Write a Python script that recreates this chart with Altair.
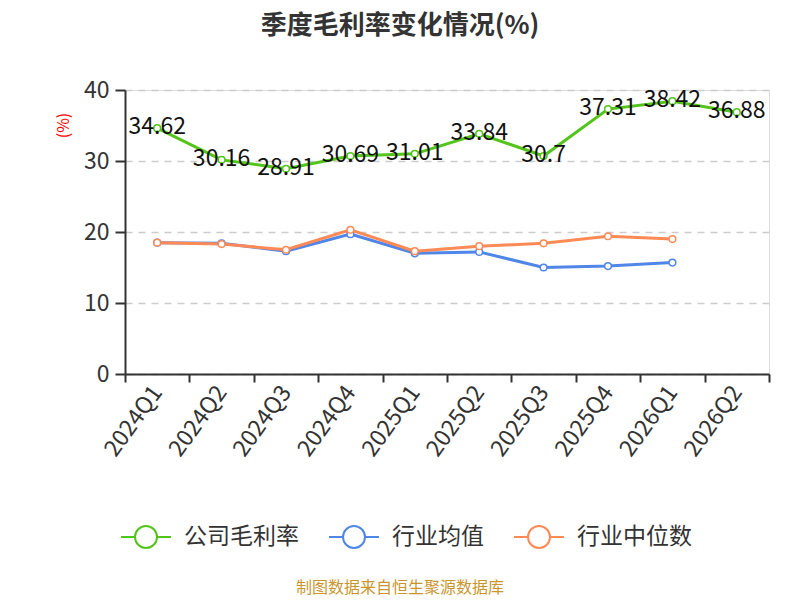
import altair as alt
import pandas as pd

quarters = ["2024Q1", "2024Q2", "2024Q3", "2024Q4", "2025Q1", "2025Q2", "2025Q3", "2025Q4", "2026Q1", "2026Q2"]
company = [34.62, 30.16, 28.91, 30.69, 31.01, 33.84, 30.7, 37.31, 38.42, 36.88]
industry_mean = [18.5, 18.4, 17.3, 19.7, 17.0, 17.2, 15.0, 15.2, 15.7, None]
industry_median = [18.5, 18.3, 17.5, 20.3, 17.3, 18.0, 18.4, 19.4, 19.0, None]

series_names = ["公司毛利率", "行业均值", "行业中位数"]
series_colors = ["#52C41A", "#4F86E8", "#FF8A56"]
title_text = "季度毛利率变化情况(%)"
source_text = "制图数据来自恒生聚源数据库"

rows = []
for name, vals in zip(series_names, [company, industry_mean, industry_median]):
    for i, (q, v) in enumerate(zip(quarters, vals)):
        if v is not None:
            rows.append({"quarter": q, "series": name, "value": v, "label": f"{v:g}"})
df = pd.DataFrame(rows)

FONT = "Noto Sans CJK SC"

x_enc = alt.X(
    "quarter:N",
    sort=quarters,
    bandPosition=0.5,
    scale=alt.Scale(type="band", domain=quarters, paddingInner=0, paddingOuter=0),
    axis=alt.Axis(
        title=None,
        tickBand="extent",
        labelAngle=-54,
        labelAlign="right",
        labelBaseline="middle",
        labelFontSize=23,
        labelColor="#333333",
        labelFont=FONT,
        labelPadding=6,
        tickSize=8,
        tickWidth=2,
        tickColor="#333333",
        domainColor="#333333",
        domainWidth=2,
        grid=False,
    ),
)

y_enc = alt.Y(
    "value:Q",
    scale=alt.Scale(domain=[0, 40], nice=False),
    axis=alt.Axis(
        title="(%)",
        titleColor="red",
        titleFontSize=16,
        titleFontWeight="normal",
        titleFont=FONT,
        titleX=-62,
        titleY=35,
        titleAngle=-90,
        titleAlign="center",
        titleBaseline="middle",
        values=[0, 10, 20, 30, 40],
        labelFontSize=23,
        labelColor="#333333",
        labelFont=FONT,
        labelPadding=6,
        tickSize=10,
        tickWidth=2,
        tickColor="#333333",
        domainColor="#333333",
        domainWidth=2,
        gridColor="#CCCCCC",
        gridDash=[7, 6],
        gridWidth=1.5,
    ),
)

legend_symbol = "M-1,0 L-0.44,0 M0.44,0 L1,0 M-0.44,0 A0.44,0.44 0 1,1 0.44,0 A0.44,0.44 0 1,1 -0.44,0 Z"

color_enc = alt.Color(
    "series:N",
    sort=series_names,
    scale=alt.Scale(domain=series_names, range=series_colors),
    legend=alt.Legend(
        title=None,
        orient="none",
        direction="horizontal",
        legendX=-5,
        legendY=421,
        symbolType=legend_symbol,
        symbolSize=2500,
        symbolStrokeWidth=2,
        symbolFillColor="transparent",
        labelFontSize=23,
        labelFont=FONT,
        labelColor="#333333",
        labelOffset=12,
        columnPadding=26,
        symbolOffset=0,
    ),
)

base = alt.Chart(df)

lines = base.mark_line(strokeWidth=3).encode(x=x_enc, y=y_enc, color=color_enc)
points = base.mark_point(filled=True, fill="white", size=45, strokeWidth=1.5, opacity=1).encode(
    x=alt.X("quarter:N", sort=quarters, bandPosition=0.5),
    y="value:Q",
    stroke=alt.Stroke("series:N", scale=alt.Scale(domain=series_names, range=series_colors), legend=None),
)
labels = base.transform_filter(alt.datum.series == "公司毛利率").mark_text(
    fontSize=23, font=FONT, color="#111111", align="center", baseline="middle", dy=-1
).encode(x=alt.X("quarter:N", sort=quarters, bandPosition=0.5), y="value:Q", text="label:N")

source = alt.Chart(pd.DataFrame({"t": [source_text]})).mark_text(
    fontSize=16, font=FONT, color="#C9962E", align="center", baseline="middle"
).encode(text="t:N", x=alt.value(275), y=alt.value(498))

title = alt.Chart(pd.DataFrame({"t": [title_text]})).mark_text(
    fontSize=26, font=FONT, fontWeight="bold", color="#333333", align="center", baseline="middle"
).encode(text="t:N", x=alt.value(275), y=alt.value(-64))

chart = (
    alt.layer(lines, points, labels, source, title)
    .properties(
        width=644,
        height=284,
        autosize=alt.AutoSizeParams(type="none"),
        padding={"left": 117, "top": 82, "right": 19, "bottom": 224},
    )
    .configure_view(stroke=None)
    .configure(background="white")
)

chart.save("out.html", embed_options={"renderer": "svg", "actions": False})
